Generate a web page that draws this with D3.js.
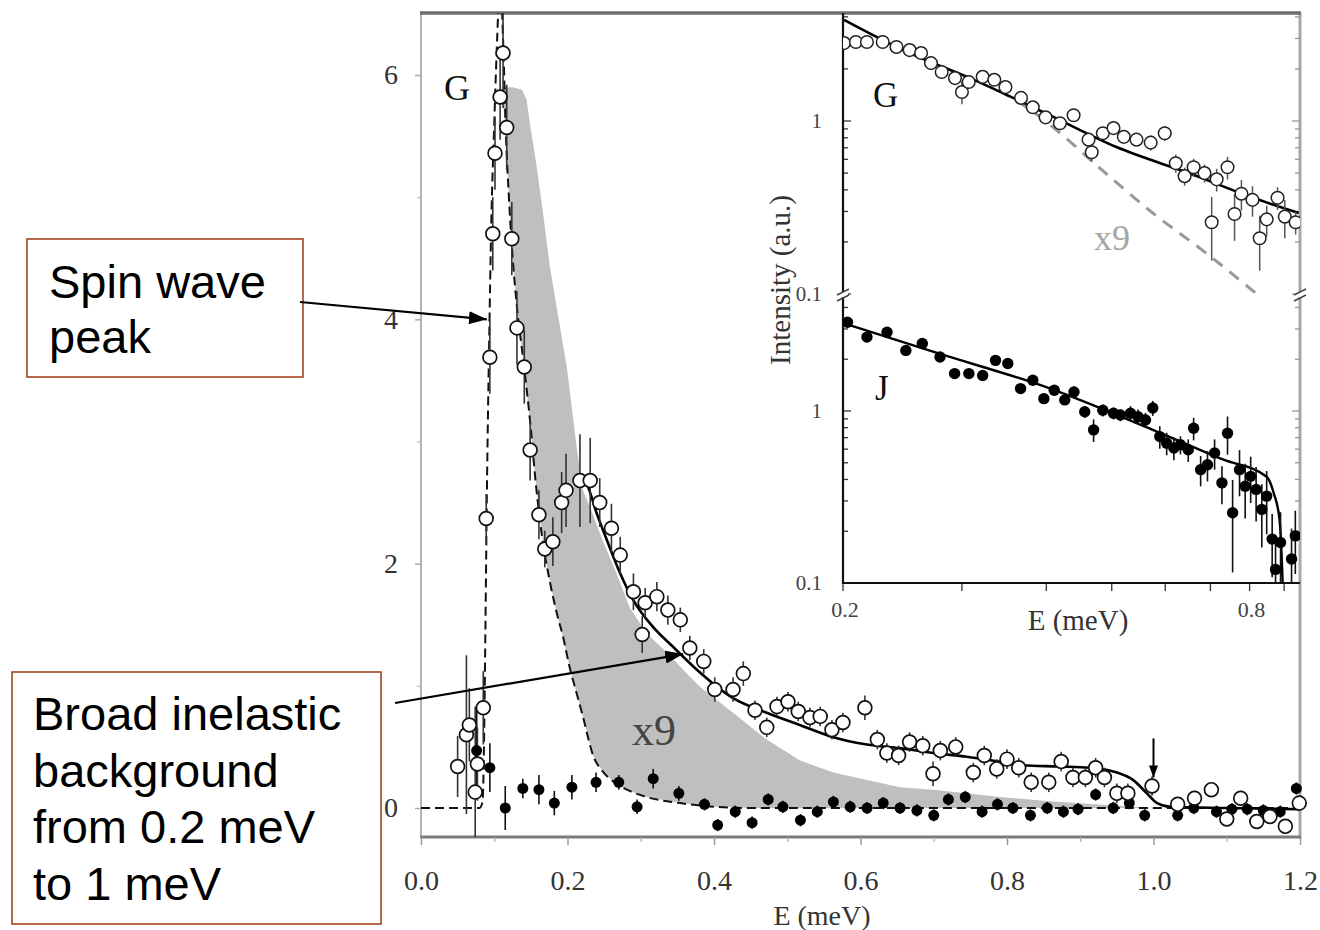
<!DOCTYPE html>
<html>
<head>
<meta charset="utf-8">
<script src="https://cdn.jsdelivr.net/npm/d3@7"></script>
<style>
  html, body { margin: 0; padding: 0; background: #fff; }
  svg { display: block; }
</style>
</head>
<body>
<svg id="chart" width="1320" height="930"></svg>
<script>
// ---------------- main panel data (linear intensity vs E in meV) ----------------
// G: open circles
const gMainE = [0.050,0.062,0.066,0.074,0.077,0.085,0.089,0.094,0.098,0.101,0.108,0.112,0.117,0.124,0.131,0.141,0.149,0.161,0.169,0.180,0.192,0.198,0.217,0.231,0.244,0.260,0.272,0.290,0.302,0.306,0.322,0.337,0.354,0.367,0.386,0.401,0.426,0.440,0.456,0.472,0.486,0.501,0.515,0.531,0.545,0.561,0.576,0.606,0.623,0.636,0.652,0.667,0.685,0.699,0.709,0.730,0.754,0.769,0.786,0.800,0.816,0.833,0.857,0.874,0.890,0.907,0.921,0.933,0.950,0.965,0.998,1.033,1.056,1.079,1.100,1.119,1.141,1.159,1.180,1.199];
const gMainI = [0.34,0.60,0.68,0.13,0.36,0.82,2.37,3.69,4.70,5.36,5.82,6.18,5.57,4.66,3.93,3.61,2.93,2.40,2.12,2.18,2.50,2.60,2.68,2.68,2.50,2.29,2.07,1.77,1.42,1.68,1.73,1.62,1.54,1.31,1.20,0.97,0.97,1.10,0.80,0.66,0.83,0.87,0.79,0.74,0.75,0.64,0.70,0.82,0.56,0.45,0.43,0.54,0.51,0.28,0.47,0.50,0.29,0.43,0.32,0.40,0.33,0.21,0.21,0.38,0.25,0.25,0.33,0.25,0.12,0.12,0.18,0.03,0.08,0.15,-0.09,0.08,-0.11,-0.07,-0.15,0.04];
const gMainErr = [0.25,0.65,0.30,0.70,0.30,0.30,0.20,0.30,0.30,0.30,0.35,0.45,0.35,0.30,0.30,0.30,0.25,0.20,0.15,0.20,0.25,0.30,0.38,0.35,0.20,0.20,0.15,0.15,0.15,0.12,0.12,0.12,0.10,0.10,0.10,0.10,0.10,0.10,0.08,0.08,0.08,0.08,0.08,0.08,0.08,0.08,0.08,0.10,0.08,0.08,0.08,0.08,0.08,0.10,0.08,0.08,0.08,0.08,0.08,0.08,0.08,0.08,0.08,0.08,0.08,0.08,0.08,0.08,0.08,0.08,0.08,0.06,0.06,0.06,0.06,0.06,0.06,0.06,0.06,0.06];

// J: filled circles
const jMainE = [0.076,0.094,0.115,0.139,0.161,0.182,0.206,0.239,0.270,0.295,0.317,0.352,0.387,0.405,0.429,0.452,0.474,0.494,0.518,0.541,0.563,0.586,0.609,0.631,0.654,0.677,0.700,0.720,0.743,0.766,0.787,0.808,0.832,0.855,0.877,0.897,0.921,0.945,0.967,0.988,1.033,1.055,1.086,1.107,1.128,1.150,1.173,1.195];
const jMainI = [0.47,0.33,0.00,0.16,0.15,0.04,0.17,0.21,0.21,0.01,0.24,0.12,0.03,-0.14,-0.03,-0.12,0.07,0.01,-0.10,-0.03,0.05,0.01,0.00,0.04,0.00,-0.02,-0.06,0.07,0.09,-0.03,0.03,0.00,-0.06,0.00,-0.03,-0.01,0.11,0.00,0.04,-0.06,-0.06,0.00,-0.03,-0.01,-0.01,-0.02,-0.03,0.16];
const jMainErr = [0.35,0.20,0.18,0.08,0.12,0.10,0.10,0.08,0.06,0.06,0.08,0.06,0.05,0.05,0.05,0.05,0.05,0.05,0.05,0.05,0.05,0.05,0.05,0.05,0.05,0.05,0.05,0.05,0.05,0.05,0.05,0.05,0.05,0.05,0.05,0.05,0.05,0.05,0.05,0.05,0.05,0.05,0.05,0.05,0.05,0.05,0.05,0.05];

// spin-wave peak fit (dashed)
const spinE = [0,0.040,0.080,0.084,0.086,0.088,0.090,0.093,0.096,0.100,0.104,0.108,0.112,0.116,0.120,0.124,0.131,0.140,0.150,0.156,0.167,0.176,0.186,0.194,0.203,0.212,0.221,0.235,0.248,0.262,0.285,0.308,0.354,0.400,0.450,0.600,0.800,1.000,1.200];
const spinI = [0,0,0,0.05,0.5,1.5,2.6,3.8,4.8,5.6,6.3,6.8,6.3,5.5,5.0,4.6,4.1,3.65,3.1,2.7,2.15,1.85,1.58,1.4,1.15,0.95,0.75,0.43,0.30,0.22,0.14,0.09,0.04,0.01,0,0,0,0,0];

// broad inelastic component x9 (upper edge of the shaded band)
const bandE = [0.110,0.125,0.138,0.144,0.150,0.158,0.167,0.176,0.188,0.199,0.213,0.221,0.231,0.248,0.267,0.285,0.308,0.336,0.360,0.381,0.426,0.472,0.517,0.563,0.609,0.654,0.699,0.745,0.790,0.850,0.920,1.000];
const bandI = [5.90,5.90,5.88,5.80,5.55,5.25,4.85,4.43,4.00,3.61,2.93,2.60,2.46,2.19,1.92,1.64,1.43,1.27,1.12,0.99,0.78,0.56,0.39,0.29,0.23,0.17,0.15,0.12,0.09,0.06,0.03,0.00];

// total fit (solid)
const fitE = [0.222,0.226,0.240,0.254,0.272,0.290,0.317,0.344,0.377,0.426,0.472,0.517,0.563,0.609,0.654,0.699,0.745,0.790,0.822,0.868,0.913,0.950,0.972,0.991,1.005,1.023,1.100,1.200];
const fitI = [2.70,2.66,2.41,2.19,1.92,1.70,1.48,1.32,1.13,0.90,0.78,0.68,0.58,0.52,0.49,0.45,0.42,0.38,0.35,0.34,0.33,0.29,0.23,0.12,0.04,0.01,0.00,-0.01];

// cut-off marker
const cutoffE = 1.0;
const cutoffFrom = 0.57, cutoffTo = 0.25;

const xMajor = [0, 0.2, 0.4, 0.6, 0.8, 1.0, 1.2];
const xMinor = [0.1, 0.3, 0.5, 0.7, 0.9, 1.1];
const yMajor = [0, 2, 4, 6];
const yMinor = [1, 3, 5];

// ---------------- inset data (log-log) ----------------
const gInE = [0.2007,0.209,0.217,0.229,0.240,0.251,0.261,0.270,0.280,0.293,0.300,0.307,0.322,0.335,0.348,0.367,0.382,0.399,0.419,0.439,0.462,0.467,0.485,0.503,0.521,0.544,0.571,0.599,0.622,0.641,0.661,0.686,0.703,0.715,0.742,0.760,0.778,0.808,0.828,0.848,0.880,0.902,0.936];
const gInI = [2.82,2.86,2.86,2.86,2.68,2.57,2.47,2.16,1.92,1.77,1.47,1.68,1.80,1.73,1.57,1.36,1.20,1.05,0.97,1.08,0.78,0.66,0.85,0.91,0.81,0.78,0.75,0.85,0.57,0.48,0.54,0.50,0.26,0.46,0.54,0.29,0.38,0.35,0.21,0.27,0.36,0.28,0.26];
const gInRelErr = [0.05,0.05,0.05,0.05,0.05,0.05,0.05,0.05,0.05,0.05,0.15,0.05,0.05,0.05,0.05,0.06,0.06,0.06,0.06,0.07,0.08,0.12,0.08,0.08,0.08,0.08,0.10,0.10,0.12,0.12,0.12,0.12,0.40,0.15,0.15,0.30,0.20,0.20,0.35,0.20,0.15,0.25,0.15];
const gFitE = [0.2007,0.2454,0.3125,0.399,0.508,0.650,0.828,0.946];
const gFitI = [3.84,2.57,1.73,1.11,0.707,0.50,0.349,0.294];
const gX9E = [0.340,0.379,0.409,0.478,0.575,0.689,0.817];
const gX9I = [1.50,1.16,0.923,0.542,0.294,0.173,0.101];

const jInE = [0.2031,0.217,0.2324,0.2478,0.2621,0.2784,0.2926,0.3072,0.322,0.3364,0.3508,0.3664,0.382,0.3967,0.411,0.426,0.4396,0.456,0.470,0.485,0.503,0.515,0.533,0.547,0.561,0.575,0.589,0.603,0.618,0.632,0.649,0.661,0.677,0.693,0.710,0.728,0.742,0.755,0.773,0.788,0.803,0.818,0.834,0.848,0.864,0.874,0.889,0.923,0.935];
const jInI = [3.28,2.69,2.87,2.25,2.47,2.06,1.65,1.65,1.61,1.97,1.89,1.35,1.51,1.18,1.32,1.16,1.29,0.99,0.777,1.01,0.97,0.948,0.97,0.927,0.887,1.04,0.71,0.65,0.609,0.636,0.595,0.794,0.456,0.487,0.57,0.382,0.743,0.256,0.456,0.365,0.417,0.35,0.268,0.32,0.18,0.12,0.172,0.138,0.188];
const jInRelErr = [0.06,0.06,0.06,0.06,0.06,0.06,0.06,0.06,0.06,0.06,0.06,0.06,0.06,0.06,0.06,0.06,0.08,0.08,0.15,0.08,0.08,0.08,0.10,0.10,0.10,0.10,0.15,0.15,0.15,0.12,0.15,0.15,0.20,0.20,0.20,0.25,0.25,0.55,0.30,0.35,0.30,0.35,0.40,0.40,0.40,0.45,0.50,0.50,0.40];
const jFitE = [0.2007,0.2770,0.399,0.575,0.732,0.848,0.868,0.886,0.895,0.900];
const jFitI = [3.23,2.16,1.38,0.777,0.521,0.415,0.336,0.234,0.105,0.05];

const inXTicks = [0.2,0.3,0.4,0.5,0.6,0.7,0.8,0.9];
const inXLabels = [0.2, 0.8];
const inYTicks = [0.1,0.2,0.3,0.4,0.5,0.6,0.7,0.8,0.9,1,2,3,4];
const inYLabels = [0.1, 1];

// ---------------- layout ----------------
const svg = d3.select("#chart");
const serif = "'Liberation Serif','Times New Roman',serif";
const sans = "'Liberation Sans',Arial,sans-serif";

const P = { left: 421, right: 1300, top: 13, bottom: 837 };
const x = d3.scaleLinear().domain([0, 1.2]).range([P.left, P.right]);
const y = d3.scaleLinear().domain([0, 6]).range([808, 75]);

const I = { left: 843, right: 1300, top: 13, brk: 295, bottom: 583 };
const xi = d3.scaleLog().domain([0.2, 0.95]).range([I.left, I.right]);
const yUp = d3.scaleLog().domain([0.1, 1]).range([294, 121]);
const yLo = d3.scaleLog().domain([0.1, 1]).range([583, 411]);

const defs = svg.append("defs");
defs.append("clipPath").attr("id", "clipMain").append("rect")
  .attr("x", P.left).attr("y", P.top).attr("width", P.right - P.left).attr("height", P.bottom - P.top);
defs.append("clipPath").attr("id", "clipUp").append("rect")
  .attr("x", I.left).attr("y", I.top).attr("width", I.right - I.left).attr("height", I.brk - I.top);
defs.append("clipPath").attr("id", "clipLo").append("rect")
  .attr("x", I.left).attr("y", I.brk).attr("width", I.right - I.left).attr("height", I.bottom - I.brk);

function addHead(id, len, wid) {
  defs.append("marker").attr("id", id)
    .attr("markerUnits", "userSpaceOnUse")
    .attr("viewBox", `0 0 ${len} ${wid}`)
    .attr("refX", len).attr("refY", wid / 2)
    .attr("markerWidth", len).attr("markerHeight", wid)
    .attr("orient", "auto")
    .append("path").attr("d", `M0,0 L${len},${wid / 2} L0,${wid} Z`).attr("fill", "#000");
}
addHead("headBig", 18, 13);
addHead("headSmall", 12, 9);

const zip = (a, b) => a.map((v, i) => [v, b[i]]);

// ---------------- main frame ----------------
const frame = svg.append("g");
frame.append("line").attr("x1", P.left).attr("x2", P.left).attr("y1", P.top).attr("y2", P.bottom)
  .attr("stroke", "#b4b4b4").attr("stroke-width", 2);
frame.append("line").attr("x1", P.right).attr("x2", P.right).attr("y1", P.top).attr("y2", P.bottom + 2)
  .attr("stroke", "#a8a8a8").attr("stroke-width", 3);
frame.append("line").attr("x1", P.left - 1).attr("x2", P.right + 1).attr("y1", P.bottom).attr("y2", P.bottom)
  .attr("stroke", "#7a7a7a").attr("stroke-width", 3);
frame.append("line").attr("x1", P.left - 1).attr("x2", P.right + 1).attr("y1", P.top).attr("y2", P.top)
  .attr("stroke", "#6e6e6e").attr("stroke-width", 3.5);

// x axis
const xAxisG = svg.append("g").attr("transform", `translate(0,${P.bottom})`)
  .call(d3.axisBottom(x).tickValues(xMajor).tickFormat(d3.format(".1f")).tickSize(8));
xAxisG.select(".domain").remove();
xAxisG.selectAll(".tick line").attr("stroke", "#999").attr("stroke-width", 1.5);
xAxisG.selectAll(".tick text").attr("y", 53).attr("dy", 0)
  .attr("font-family", serif).attr("font-size", 28).attr("fill", "#333");
const xMinorG = svg.append("g").attr("transform", `translate(0,${P.bottom})`)
  .call(d3.axisBottom(x).tickValues(xMinor).tickFormat("").tickSize(5));
xMinorG.select(".domain").remove();
xMinorG.selectAll(".tick line").attr("stroke", "#aaa").attr("stroke-width", 1.2);

// y axis
const yAxisG = svg.append("g").attr("transform", `translate(${P.left},0)`)
  .call(d3.axisLeft(y).tickValues(yMajor).tickFormat(d3.format("d")).tickSize(6));
yAxisG.select(".domain").remove();
yAxisG.selectAll(".tick line").attr("stroke", "#aaa").attr("stroke-width", 1.5);
yAxisG.selectAll(".tick text").attr("x", -23)
  .attr("font-family", serif).attr("font-size", 28).attr("fill", "#333");
const yMinorG = svg.append("g").attr("transform", `translate(${P.left},0)`)
  .call(d3.axisLeft(y).tickValues(yMinor).tickFormat("").tickSize(4));
yMinorG.select(".domain").remove();
yMinorG.selectAll(".tick line").attr("stroke", "#bbb").attr("stroke-width", 1.2);

svg.append("text").attr("x", 822).attr("y", 925).attr("text-anchor", "middle")
  .attr("font-family", serif).attr("font-size", 28).attr("fill", "#333").text("E (meV)");

// ---------------- main plot marks ----------------
const main = svg.append("g").attr("clip-path", "url(#clipMain)");
const lineMain = d3.line().x(d => x(d[0])).y(d => y(d[1]));

// shaded band: upper edge, then back along the spin-wave curve
const bandTop = zip(bandE, bandI);
const bandBottom = zip(spinE, spinI).filter(d => d[0] >= 0.116 && d[0] <= 1.0).reverse();
main.append("path").attr("d", lineMain(bandTop.concat(bandBottom)) + "Z")
  .attr("fill", "#bfbfbf").attr("stroke", "none");

main.append("path").attr("d", lineMain.curve(d3.curveMonotoneX)(zip(spinE, spinI)))
  .attr("fill", "none").attr("stroke", "#111").attr("stroke-width", 2)
  .attr("stroke-dasharray", "9,5");

main.append("path").attr("d", lineMain.curve(d3.curveMonotoneX)(zip(fitE, fitI)))
  .attr("fill", "none").attr("stroke", "#000").attr("stroke-width", 2.6);

// error bars
main.append("g").selectAll("line").data(zip(jMainE, jMainI).map((d, i) => [d[0], d[1], jMainErr[i]]))
  .join("line")
  .attr("x1", d => x(d[0])).attr("x2", d => x(d[0]))
  .attr("y1", d => y(d[1] - d[2])).attr("y2", d => y(d[1] + d[2]))
  .attr("stroke", "#111").attr("stroke-width", 1.6);
main.append("g").selectAll("line").data(zip(gMainE, gMainI).map((d, i) => [d[0], d[1], gMainErr[i]]))
  .join("line")
  .attr("x1", d => x(d[0])).attr("x2", d => x(d[0]))
  .attr("y1", d => y(d[1] - d[2])).attr("y2", d => y(d[1] + d[2]))
  .attr("stroke", "#333").attr("stroke-width", 1.6);

// J filled points
svg.append("g").selectAll("circle").data(zip(jMainE, jMainI)).join("circle")
  .attr("cx", d => x(d[0])).attr("cy", d => y(d[1])).attr("r", 5.5)
  .attr("fill", "#000");
// G open points
svg.append("g").selectAll("circle").data(zip(gMainE, gMainI)).join("circle")
  .attr("cx", d => x(d[0])).attr("cy", d => y(d[1])).attr("r", 6.9)
  .attr("fill", "#fff").attr("stroke", "#111").attr("stroke-width", 1.7);

// cut-off arrow at 1 meV
svg.append("line")
  .attr("x1", x(cutoffE)).attr("x2", x(cutoffE))
  .attr("y1", y(cutoffFrom)).attr("y2", y(cutoffTo))
  .attr("stroke", "#000").attr("stroke-width", 2).attr("marker-end", "url(#headSmall)");

svg.append("text").attr("x", 444).attr("y", 100)
  .attr("font-family", serif).attr("font-size", 36).attr("fill", "#111").text("G");
svg.append("text").attr("x", 632).attr("y", 745)
  .attr("font-family", serif).attr("font-size", 44).attr("fill", "#444").text("x9");

// ---------------- inset ----------------
svg.append("rect").attr("x", I.left).attr("y", I.top + 2)
  .attr("width", I.right - I.left - 2).attr("height", I.bottom - I.top - 2).attr("fill", "#fff");

const inset = svg.append("g");

// tick marks on left (inward) and right (inward) for both decades
function yTicks(scale, clipTop, clipBot, labels) {
  inYTicks.forEach(v => {
    const yy = scale(v);
    if (yy < clipTop || yy > clipBot + 0.5) return;
    const major = inYLabels.includes(v);
    const len = major ? 8 : 5;
    inset.append("line").attr("x1", I.left).attr("x2", I.left + len).attr("y1", yy).attr("y2", yy)
      .attr("stroke", "#333").attr("stroke-width", 1.3);
    inset.append("line").attr("x1", I.right - len).attr("x2", I.right).attr("y1", yy).attr("y2", yy)
      .attr("stroke", "#999").attr("stroke-width", 1.3);
    if (labels && major) {
      inset.append("text").attr("x", I.left - 21).attr("y", yy).attr("dy", "0.35em")
        .attr("text-anchor", "end").attr("font-family", serif).attr("font-size", 21)
        .attr("fill", "#444").text(v === 1 ? "1" : "0.1");
    }
  });
}
yTicks(yUp, I.top, I.brk, true);
yTicks(yLo, I.brk + 1, I.bottom, true);

inXTicks.forEach(v => {
  inset.append("line").attr("x1", xi(v)).attr("x2", xi(v)).attr("y1", I.bottom).attr("y2", I.bottom + 8)
    .attr("stroke", "#333").attr("stroke-width", 1.3);
});
inXLabels.forEach(v => {
  inset.append("text").attr("x", xi(v) + 2).attr("y", 617).attr("text-anchor", "middle")
    .attr("font-family", serif).attr("font-size", 22).attr("fill", "#444").text(d3.format(".1f")(v));
});

inset.append("line").attr("x1", I.left).attr("x2", I.left).attr("y1", I.top).attr("y2", I.bottom + 1)
  .attr("stroke", "#111").attr("stroke-width", 2.2);
inset.append("line").attr("x1", I.left - 1).attr("x2", I.right).attr("y1", I.bottom).attr("y2", I.bottom)
  .attr("stroke", "#111").attr("stroke-width", 2.2);

// axis-break marks between the two decades
[I.left, I.right].forEach(xx => {
  inset.append("rect").attr("x", xx - 5).attr("y", I.brk - 3).attr("width", 10).attr("height", 5).attr("fill", "#fff");
  [-3, 3].forEach(off => {
    inset.append("line").attr("x1", xx - 6).attr("x2", xx + 6)
      .attr("y1", I.brk + off + 3).attr("y2", I.brk + off - 3)
      .attr("stroke", "#444").attr("stroke-width", 1.4);
  });
});

inset.append("text").attr("transform", `translate(790,280) rotate(-90)`).attr("text-anchor", "middle")
  .attr("font-family", serif).attr("font-size", 29).attr("fill", "#333").text("Intensity (a.u.)");
inset.append("text").attr("x", 1078).attr("y", 630).attr("text-anchor", "middle")
  .attr("font-family", serif).attr("font-size", 29).attr("fill", "#333").text("E (meV)");

// upper decade: G
const up = inset.append("g").attr("clip-path", "url(#clipUp)");
const lineUp = d3.line().x(d => xi(d[0])).y(d => yUp(d[1])).curve(d3.curveMonotoneX);
up.append("path").attr("d", lineUp(zip(gX9E, gX9I)))
  .attr("fill", "none").attr("stroke", "#999").attr("stroke-width", 3).attr("stroke-dasharray", "12,9");
up.append("path").attr("d", lineUp(zip(gFitE, gFitI)))
  .attr("fill", "none").attr("stroke", "#000").attr("stroke-width", 2.6);
up.append("g").selectAll("line").data(gInE.map((e, i) => [e, gInI[i], gInI[i] * gInRelErr[i]]))
  .join("line")
  .attr("x1", d => xi(d[0])).attr("x2", d => xi(d[0]))
  .attr("y1", d => yUp(d[1] - d[2])).attr("y2", d => yUp(d[1] + d[2]))
  .attr("stroke", "#555").attr("stroke-width", 1.5);
up.append("g").selectAll("circle").data(zip(gInE, gInI)).join("circle")
  .attr("cx", d => xi(d[0])).attr("cy", d => yUp(d[1])).attr("r", 6.3)
  .attr("fill", "#fff").attr("stroke", "#222").attr("stroke-width", 1.5);

// lower decade: J
const lo = inset.append("g").attr("clip-path", "url(#clipLo)");
const lineLo = d3.line().x(d => xi(d[0])).y(d => yLo(d[1])).curve(d3.curveMonotoneX);
lo.append("path").attr("d", lineLo(zip(jFitE, jFitI)))
  .attr("fill", "none").attr("stroke", "#000").attr("stroke-width", 2.4);
lo.append("g").selectAll("line").data(jInE.map((e, i) => [e, jInI[i], jInI[i] * jInRelErr[i]]))
  .join("line")
  .attr("x1", d => xi(d[0])).attr("x2", d => xi(d[0]))
  .attr("y1", d => yLo(Math.max(d[1] - d[2], 0.01))).attr("y2", d => yLo(d[1] + d[2]))
  .attr("stroke", "#111").attr("stroke-width", 1.6);
lo.append("g").selectAll("circle").data(zip(jInE, jInI)).join("circle")
  .attr("cx", d => xi(d[0])).attr("cy", d => yLo(d[1])).attr("r", 5.7)
  .attr("fill", "#000");

inset.append("text").attr("x", 873).attr("y", 107)
  .attr("font-family", serif).attr("font-size", 35).attr("fill", "#111").text("G");
inset.append("text").attr("x", 875).attr("y", 400)
  .attr("font-family", serif).attr("font-size", 35).attr("fill", "#111").text("J");
inset.append("text").attr("x", 1094).attr("y", 250)
  .attr("font-family", serif).attr("font-size", 36).attr("fill", "#a6a6a6").text("x9");

// ---------------- call-out boxes ----------------
const boxStroke = "#a0451c";
const notes = svg.append("g").attr("font-family", sans).attr("font-size", 47).attr("fill", "#000");

notes.append("rect").attr("x", 27).attr("y", 239).attr("width", 276).attr("height", 138)
  .attr("fill", "#fff").attr("stroke", boxStroke).attr("stroke-width", 1.6);
["Spin wave", "peak"].forEach((t, i) => {
  notes.append("text").attr("x", 49).attr("y", 298 + i * 55).text(t);
});
svg.append("line").attr("x1", 300).attr("y1", 302).attr("x2", x(0.09)).attr("y2", y(4.0))
  .attr("stroke", "#000").attr("stroke-width", 2.2).attr("marker-end", "url(#headBig)");

notes.append("rect").attr("x", 12).attr("y", 672).attr("width", 369).attr("height", 252)
  .attr("fill", "#fff").attr("stroke", boxStroke).attr("stroke-width", 1.6);
["Broad inelastic", "background", "from 0.2 meV", "to 1 meV"].forEach((t, i) => {
  notes.append("text").attr("x", 33).attr("y", 730 + i * 56.7).text(t);
});
svg.append("line").attr("x1", 395).attr("y1", 703).attr("x2", x(0.358)).attr("y2", y(1.26))
  .attr("stroke", "#000").attr("stroke-width", 2.2).attr("marker-end", "url(#headBig)");
</script>
</body>
</html>
